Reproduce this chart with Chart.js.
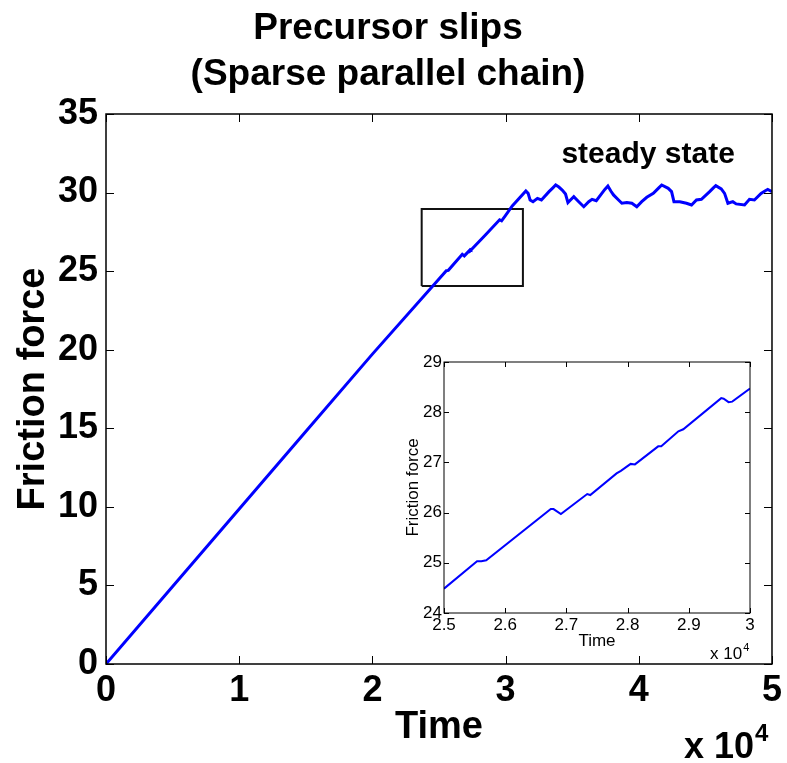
<!DOCTYPE html>
<html>
<head>
<meta charset="utf-8">
<title>Precursor slips</title>
<script src="https://cdn.jsdelivr.net/npm/chart.js"></script>
<style>
  body { margin: 0; background: #fff; }
  #wrap { position: relative; width: 787px; height: 763px; }
  #inset { position: absolute; left: 390px; top: 340px; }
</style>
</head>
<body>
<div id="wrap">
  <canvas id="main" width="787" height="763"></canvas>
  <canvas id="inset" width="380" height="330"></canvas>
</div>
<script>
// DATA (time in units of 1e4)
const mainTime = [0, 0.5, 1, 1.5, 2, 2.5, 2.555, 2.57, 2.675, 2.69, 2.735, 2.74, 2.85, 2.955, 2.97, 3.0, 3.05,
  3.152, 3.169, 3.184, 3.206, 3.239, 3.269, 3.326, 3.355, 3.376, 3.40, 3.425, 3.45, 3.468, 3.487, 3.512, 3.549, 3.587,
  3.624, 3.649, 3.681, 3.745, 3.768, 3.79, 3.81, 3.848, 3.873, 3.91, 3.948, 3.985, 4.022, 4.06, 4.109, 4.15, 4.172, 4.221,
  4.246, 4.264, 4.308, 4.358, 4.396, 4.433, 4.47, 4.532, 4.56, 4.578, 4.619, 4.644, 4.669, 4.706, 4.731, 4.794,
  4.831, 4.868, 4.918, 4.95, 4.968, 5.0];
const mainForce = [0, 4.93, 9.86, 14.8, 19.72, 24.5, 25.03, 25.05, 26.07, 25.97, 26.37, 26.35, 27.32, 28.27, 28.2, 28.55, 29.15,
  30.1, 29.95, 29.53, 29.42, 29.63, 29.53, 30.06, 30.3, 30.48, 30.35, 30.16, 29.91, 29.36, 29.53, 29.74, 29.42, 29.1,
  29.42, 29.57, 29.48, 30.2, 30.42, 30.1, 29.85, 29.53, 29.32, 29.36, 29.32, 29.1, 29.42, 29.7, 29.95, 30.3, 30.48, 30.27,
  30.06, 29.42, 29.42, 29.32, 29.21, 29.53, 29.57, 30.06, 30.3, 30.44, 30.23, 29.95, 29.32, 29.42, 29.28, 29.21,
  29.57, 29.53, 29.95, 30.12, 30.2, 30.06];

// zoom window drawn on the main plot
const boxTime = [2.37, 3.13, 3.13, 2.37, 2.37];
const boxForce = [24.05, 24.05, 28.95, 28.95, 24.05];

// inset close-up
const insetTime = [2.5, 2.554, 2.561, 2.569, 2.6745, 2.679, 2.691, 2.734, 2.739, 2.782, 2.789, 2.805, 2.812,
  2.85, 2.855, 2.883, 2.891, 2.953, 2.957, 2.965, 2.971, 3.0];
const insetForce = [24.485, 25.03, 25.03, 25.05, 26.07, 26.07, 25.97, 26.37, 26.35, 26.78, 26.83, 26.97, 26.96,
  27.32, 27.32, 27.62, 27.66, 28.28, 28.27, 28.2, 28.21, 28.47];

const FONT = "'Liberation Sans', Arial, Helvetica, sans-serif";
Chart.defaults.font.family = FONT;
Chart.defaults.color = '#000';

const pts = (xs, ys) => xs.map((x, i) => ({ x, y: ys[i] }));

// MATLAB style box: frame + inward ticks on all four sides, plus extra notes
const frameTicks = {
  id: 'frameTicks',
  afterDatasetsDraw(chart, args, opts) {
    const { ctx, chartArea: a, scales: { x, y } } = chart;
    ctx.save();
    ctx.strokeStyle = '#000';
    ctx.lineWidth = opts.width;
    ctx.strokeRect(a.left, a.top, a.right - a.left, a.bottom - a.top);
    ctx.lineWidth = 1;
    ctx.beginPath();
    x.ticks.forEach(t => {
      const px = Math.round(x.getPixelForValue(t.value)) + 0.5;
      ctx.moveTo(px, a.bottom); ctx.lineTo(px, a.bottom - opts.len);
      ctx.moveTo(px, a.top); ctx.lineTo(px, a.top + opts.len);
    });
    y.ticks.forEach(t => {
      const py = Math.round(y.getPixelForValue(t.value)) + 0.5;
      ctx.moveTo(a.left, py); ctx.lineTo(a.left + opts.len, py);
      ctx.moveTo(a.right, py); ctx.lineTo(a.right - opts.len, py);
    });
    ctx.stroke();
    ctx.fillStyle = '#000';
    ctx.textBaseline = 'alphabetic';
    // exponent label under the x axis
    const e = opts.exp;
    ctx.textAlign = 'left';
    ctx.font = e.font;
    ctx.fillText('x 10', a.right + e.dx, a.bottom + e.dy);
    const w = ctx.measureText('x 10').width;
    ctx.font = e.supFont;
    ctx.fillText('4', a.right + e.dx + w + 1, a.bottom + e.dy - e.supRise);
    if (opts.note) {
      ctx.font = opts.note.font;
      ctx.textAlign = 'center';
      ctx.fillText(opts.note.text, x.getPixelForValue(opts.note.x), y.getPixelForValue(opts.note.y));
    }
    ctx.restore();
  }
};

new Chart(document.getElementById('main'), {
  type: 'line',
  data: {
    datasets: [
      { data: pts(mainTime, mainForce), borderColor: '#0000ff', borderWidth: 3, pointRadius: 0, tension: 0 },
      { data: pts(boxTime, boxForce), borderColor: '#111', borderWidth: 2, pointRadius: 0, tension: 0 }
    ]
  },
  options: {
    responsive: false,
    animation: false,
    layout: { padding: { top: 0, right: 11, bottom: 0, left: 0 } },
    scales: {
      x: {
        type: 'linear', min: 0, max: 5,
        ticks: { stepSize: 1, padding: 5, font: { size: 36, weight: 'bold' } },
        grid: { display: false, drawTicks: false },
        border: { display: false },
        title: { display: true, text: 'Time', font: { size: 38, weight: 'bold', lineHeight: 1.2 }, padding: { top: 0, bottom: 13 } },
        afterFit: s => { s.height = 99; }
      },
      y: {
        min: 0, max: 35,
        ticks: { stepSize: 5, padding: 8, font: { size: 36, weight: 'bold' } },
        grid: { display: false, drawTicks: false },
        border: { display: false },
        title: { display: true, text: 'Friction force', font: { size: 38, weight: 'bold', lineHeight: 1.2 }, padding: { top: 11, bottom: 0 } },
        afterFit: s => { s.width = 106; }
      }
    },
    plugins: {
      legend: { display: false },
      tooltip: { enabled: false },
      title: {
        display: true,
        text: ['Precursor slips', '(Sparse parallel chain)'],
        font: { size: 37, weight: 'bold', lineHeight: 46 / 37 },
        padding: { top: 6, bottom: 16 },
        color: '#000'
      },
      frameTicks: {
        width: 1.5, len: 8,
        exp: { font: 'bold 36px ' + FONT, supFont: 'bold 24px ' + FONT, dx: -88, dy: 94, supRise: 17 },
        note: { text: 'steady state', font: 'bold 30px ' + FONT, x: 4.07, y: 31.88 }
      }
    }
  },
  plugins: [frameTicks]
});

new Chart(document.getElementById('inset'), {
  type: 'line',
  data: {
    datasets: [
      { data: pts(insetTime, insetForce), borderColor: '#0000ff', borderWidth: 2, pointRadius: 0, tension: 0 }
    ]
  },
  options: {
    responsive: false,
    animation: false,
    layout: { padding: { top: 22, right: 20, bottom: 0, left: 0 } },
    scales: {
      x: {
        type: 'linear', min: 2.5, max: 3,
        ticks: { stepSize: 0.1, padding: 2, font: { size: 17 }, callback: v => String(+v.toFixed(1)) },
        grid: { display: false, drawTicks: false },
        border: { display: false },
        title: { display: true, text: 'Time', font: { size: 17, lineHeight: 1.2 }, padding: { top: 0, bottom: 18 } },
        afterFit: s => { s.height = 57; }
      },
      y: {
        min: 24, max: 29,
        ticks: { stepSize: 1, padding: 2, font: { size: 17 } },
        grid: { display: false, drawTicks: false },
        border: { display: false },
        title: { display: true, text: 'Friction force', font: { size: 17, lineHeight: 1.2 }, padding: { top: 13, bottom: 0 } },
        afterFit: s => { s.width = 54; }
      }
    },
    plugins: {
      legend: { display: false },
      tooltip: { enabled: false },
      frameTicks: {
        width: 1, len: 5,
        exp: { font: '17px ' + FONT, supFont: '11px ' + FONT, dx: -40, dy: 46, supRise: 8 }
      }
    }
  },
  plugins: [frameTicks]
});
</script>
</body>
</html>
